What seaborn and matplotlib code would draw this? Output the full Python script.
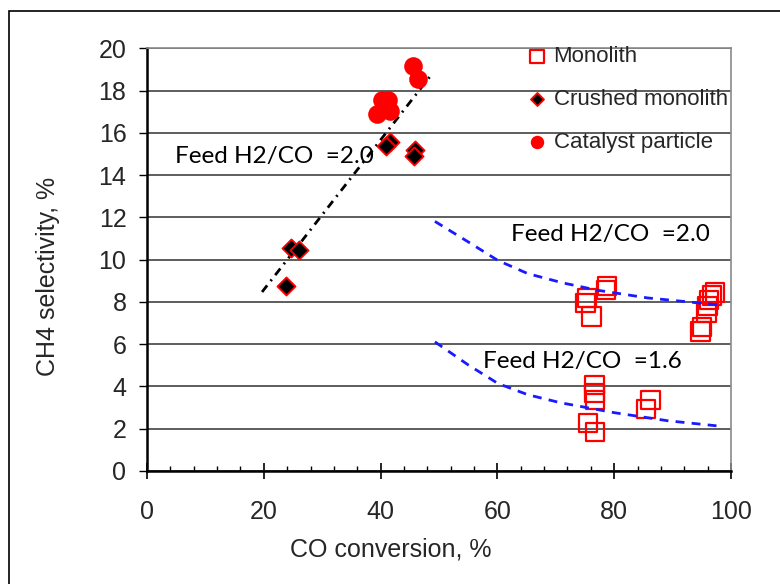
import matplotlib
matplotlib.use("Agg")
import matplotlib.pyplot as plt
import seaborn as sns
from matplotlib.patches import Rectangle

# CO conversion (%) and CH4 selectivity (%) per catalyst form
monolith_x = [78.8, 78.6, 75.3, 75.1, 76.1, 97.3, 96.8, 96.2, 96.0, 95.8, 95.0, 94.8,
              76.6, 76.6, 76.7, 75.5, 76.7, 86.2, 85.4]
monolith_y = [8.76, 8.57, 8.18, 7.94, 7.31, 8.45, 8.30, 8.10, 7.80, 7.50, 6.80, 6.60,
              4.07, 3.68, 3.36, 2.26, 1.86, 3.36, 2.92]

crushed_x = [41.6, 41.0, 45.9, 45.7, 24.7, 25.95, 23.8]
crushed_y = [15.55, 15.39, 15.20, 14.91, 10.57, 10.46, 8.77]

particle_x = [45.6, 46.4, 40.3, 41.2, 39.3, 41.6]
particle_y = [19.14, 18.56, 17.57, 17.57, 16.90, 17.05]

# Trend lines
trend_x = [19.7, 48.7]
trend_y = [8.47, 18.75]

feed20_x = [49.3, 55.0, 60.1, 65.2, 71.2, 77.2, 85.7, 92.0, 98.5]
feed20_y = [11.81, 10.84, 9.96, 9.34, 8.90, 8.55, 8.19, 8.02, 7.84]

feed16_x = [49.3, 55.0, 60.1, 65.2, 70.8, 80.0, 89.1, 98.5]
feed16_y = [6.11, 5.02, 4.14, 3.61, 3.23, 2.76, 2.38, 2.11]

x_ticks = [0, 20, 40, 60, 80, 100]
y_ticks = [0, 2, 4, 6, 8, 10, 12, 14, 16, 18, 20]

sns.set_theme(style="white")
plt.rcParams['font.family'] = ['Liberation Sans', 'DejaVu Sans']

W, H = 780, 584
fig = plt.figure(figsize=(W / 100, H / 100), dpi=100)
fig.patch.set_facecolor("white")
ax = fig.add_axes([147 / W, 1 - 471 / H, (731 - 147) / W, (471 - 48.3) / H])

# outer frame around the chart area
fig.patches.append(Rectangle((9 / W, -0.1), 1.2, (1 - 10.5 / H) + 0.1,
                             transform=fig.transFigure, fill=False,
                             ec="black", lw=1.2))

ax.set_xlim(0, 100)
ax.set_ylim(0, 20)
ax.set_xticks(x_ticks)
ax.set_xticks(range(0, 101, 4), minor=True)
ax.set_yticks(y_ticks)
ax.yaxis.grid(True, color="#505050", lw=1.3)
ax.xaxis.grid(False)
ax.set_axisbelow(True)

for side in ("left", "bottom"):
    ax.spines[side].set_color("black")
    ax.spines[side].set_linewidth(1.8)
for side in ("top", "right"):
    ax.spines[side].set_color("#8a8a8a")
    ax.spines[side].set_linewidth(1.2)

ax.tick_params(axis="x", which="major", direction="inout", length=11.5, width=1.2,
               color="black", pad=15, labelsize=18, bottom=True)
ax.tick_params(axis="x", which="minor", direction="in", length=3.4, width=1.0,
               color="black", bottom=True)
ax.tick_params(axis="y", which="major", direction="out", length=5.8, width=1.0,
               color="black", pad=9, labelsize=18, left=True)

# trend lines
sns.lineplot(x=trend_x, y=trend_y, ax=ax, color="black", lw=2.0,
             linestyle=(0, (3.0, 2.0, 0.7, 2.0)), zorder=2)
sns.lineplot(x=feed20_x, y=feed20_y, ax=ax, color="#1a1aff", lw=2.0,
             linestyle=(0, (3.2, 2.6)), zorder=4)
sns.lineplot(x=feed16_x, y=feed16_y, ax=ax, color="#1a1aff", lw=2.0,
             linestyle=(0, (3.2, 2.6)), zorder=4)

# measurements
sns.scatterplot(x=monolith_x, y=monolith_y, ax=ax, marker="s", s=175,
                color="red", facecolor="none", edgecolor="red", linewidth=1.6,
                label="Monolith", zorder=3)
sns.scatterplot(x=crushed_x, y=crushed_y, ax=ax, marker="D", s=85,
                color="black", facecolor="black", edgecolor="red", linewidth=1.3,
                label="Crushed monolith", zorder=5)
sns.scatterplot(x=particle_x, y=particle_y, ax=ax, marker="o", s=180,
                color="red", facecolor="red", edgecolor="red", linewidth=0,
                label="Catalyst particle", zorder=5)

ax.legend(loc="upper left", bbox_to_anchor=(528 / W, 1 - 46.5 / H),
          bbox_transform=fig.transFigure, frameon=False, fontsize=16,
          markerscale=0.72, handlelength=0.8, handletextpad=0.35,
          labelspacing=0.98, borderpad=0, borderaxespad=0, scatterpoints=1)

ann_font = ["Lato", "DejaVu Sans"]
ax.text(4.8, 14.87, "Feed H2/CO  =2.0", fontsize=17.5, family=ann_font,
        va="center", ha="left", color="black")
ax.text(62.3, 11.2, "Feed H2/CO  =2.0", fontsize=17.5, family=ann_font,
        va="center", ha="left", color="black")
ax.text(57.6, 5.16, "Feed H2/CO  =1.6", fontsize=17.5, family=ann_font,
        va="center", ha="left", color="black")

ax.set_xlabel("")
ax.set_ylabel("")
fig.text(391 / W, 1 - 550 / H, "CO conversion, %", fontsize=18,
         ha="center", va="center")
fig.text(48 / W, 1 - 276 / H, "CH4 selectivity, %", fontsize=18,
         ha="center", va="center", rotation=90)

fig.savefig("out.png", dpi=100)
